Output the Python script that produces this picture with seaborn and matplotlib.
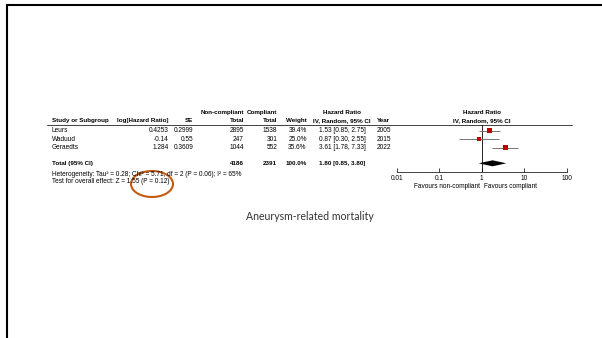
import matplotlib
matplotlib.use("Agg")
import matplotlib.pyplot as plt
from matplotlib.patches import Ellipse
import numpy as np
import pandas as pd
import seaborn as sns

# ---- data ----
studies = ["Leurs", "Waduud", "Geraedts"]
log_hr = [0.4253, -0.14, 1.284]
se = [0.2999, 0.55, 0.3609]
n_noncompliant = [2895, 247, 1044]
n_compliant = [1538, 301, 552]
weights = [39.4, 25.0, 35.6]
hr = [1.53, 0.87, 3.61]
ci_low = [0.85, 0.30, 1.78]
ci_high = [2.75, 2.55, 7.33]
years = [2005, 2015, 2022]

total_noncompliant = 4186
total_compliant = 2391
total_weight = 100.0
total_hr = 1.80
total_low = 0.85
total_high = 3.80

heterogeneity = "Heterogeneity: Tau\u00b2 = 0.28; Chi\u00b2 = 5.71, df = 2 (P = 0.06); I\u00b2 = 65%"
overall_effect = "Test for overall effect: Z = 1.55 (P = 0.12)"
tick_values = [0.01, 0.1, 1, 10, 100]
tick_labels = ["0.01", "0.1", "1", "10", "100"]
title = "Aneurysm-related mortality"

df = pd.DataFrame({"study": studies, "hr": hr, "lo": ci_low, "hi": ci_high,
                   "weight": weights})

sns.set_theme(style="white")
plt.rcParams["font.family"] = ["Liberation Sans", "DejaVu Sans"]

W, H = 602, 338
fig = plt.figure(figsize=(W / 100, H / 100), dpi=100)

# overlay in pixel units for the table text and frame
ov = fig.add_axes([0, 0, 1, 1])
ov.set_xlim(0, W)
ov.set_ylim(H, 0)
ov.axis("off")

# slide frame
ov.plot([6, W], [5, 5], color="black", lw=1.5, solid_capstyle="butt")
ov.plot([6.8, 6.8], [4.3, H], color="black", lw=1.5, solid_capstyle="butt")

fs = 4.7
fs_bold = 4.5
tc = "#000000"
hdr1_y, hdr2_y, line_y = 112.7, 120.7, 125.0
row_y = [130.7, 139.2, 147.7]
total_y = 163.3

def txt(x, y, s, ha="left", bold=False, **kw):
    ov.text(x, y, s, ha=ha, va="center",
            fontsize=fs_bold if bold else fs, color=tc,
            fontweight="bold" if bold else "normal", **kw)

# headers
col_study, col_log, col_se, col_nc, col_c, col_w, col_hr, col_year = \
    51.7, 168.3, 193.3, 244.0, 277.3, 306.7, 342.0, 376.7
txt(col_nc, hdr1_y, "Non-compliant", ha="right", bold=True)
txt(col_c, hdr1_y, "Compliant", ha="right", bold=True)
txt(col_hr, hdr1_y, "Hazard Ratio", ha="center", bold=True)
txt(481.7, hdr1_y, "Hazard Ratio", ha="center", bold=True)
txt(col_study, hdr2_y, "Study or Subgroup", bold=True)
txt(col_log, hdr2_y, "log[Hazard Ratio]", ha="right", bold=True)
txt(col_se, hdr2_y, "SE", ha="right", bold=True)
txt(col_nc, hdr2_y, "Total", ha="right", bold=True)
txt(col_c, hdr2_y, "Total", ha="right", bold=True)
txt(col_w, hdr2_y, "Weight", ha="right", bold=True)
txt(col_hr, hdr2_y, "IV, Random, 95% CI", ha="center", bold=True)
txt(col_year, hdr2_y, "Year", bold=True)
txt(481.7, hdr2_y, "IV, Random, 95% CI", ha="center", bold=True)
ov.plot([47, 572], [line_y, line_y], color="#222222", lw=0.6)

# study rows
for i, y in enumerate(row_y):
    txt(col_study, y, studies[i])
    txt(col_log, y, str(log_hr[i]), ha="right")
    txt(col_se, y, str(se[i]), ha="right")
    txt(col_nc, y, str(n_noncompliant[i]), ha="right")
    txt(col_c, y, str(n_compliant[i]), ha="right")
    txt(col_w, y, f"{weights[i]:.1f}%", ha="right")
    txt(col_hr, y, f"{hr[i]:.2f} [{ci_low[i]:.2f}, {ci_high[i]:.2f}]", ha="center")
    txt(col_year, y, str(years[i]))

# total row
txt(col_study, total_y, "Total (95% CI)", bold=True)
txt(col_nc, total_y, str(total_noncompliant), ha="right", bold=True)
txt(col_c, total_y, str(total_compliant), ha="right", bold=True)
txt(col_w, total_y, f"{total_weight:.1f}%", ha="right", bold=True)
txt(col_hr, total_y, f"{total_hr:.2f} [{total_low:.2f}, {total_high:.2f}]",
    ha="center", bold=True)
txt(col_study, 174.0, heterogeneity)
txt(col_study, 181.7, overall_effect)

# favours labels
txt(479.5, 186.5, "Favours non-compliant", ha="right")
txt(484.0, 186.5, "Favours compliant", ha="left")

# highlight around the p-value
ov.add_patch(Ellipse((152, 184), 42, 26, fill=False, edgecolor="#C55A11",
                     lw=1.5))

# caption
ov.text(310, 216.7, title, ha="center", va="center", fontsize=7.6,
        color="#333333", family=["Lato", "DejaVu Sans"])

# ---- forest plot axes ----
x0, x1 = 396.7, 566.7
ytop, ybot = line_y, 171.7
fa = fig.add_axes([x0 / W, 1 - ybot / H, (x1 - x0) / W, (ybot - ytop) / H])
fa.set_facecolor("none")
fa.set_xscale("log")
fa.set_xlim(tick_values[0], tick_values[-1])
fa.set_ylim(ybot, ytop)
df["y"] = row_y

fa.hlines(df["y"], df["lo"], df["hi"], color="#777777", lw=0.7, zorder=2)
fa.axvline(1, color="black", lw=0.6, zorder=1)
sns.scatterplot(data=df, x="hr", y="y", size="weight", sizes=(6, 12),
                marker="s", color="#C00000", edgecolor="none", legend=False,
                ax=fa, zorder=3)
dh = 3.0
fa.fill([total_low, total_hr, total_high, total_hr],
        [total_y, total_y - dh, total_y, total_y + dh],
        color="black", lw=0, zorder=3)

for s in ["top", "right", "left"]:
    fa.spines[s].set_visible(False)
fa.spines["bottom"].set_color("#222222")
fa.spines["bottom"].set_linewidth(0.6)
fa.set_xticks(tick_values)
fa.set_xticklabels(tick_labels)
fa.minorticks_off()
fa.tick_params(axis="x", direction="in", length=3, width=0.6, color="#222222",
               labelsize=fs, labelcolor=tc, pad=2.2, bottom=True)
fa.set_yticks([])
fa.set_xlabel("")
fa.set_ylabel("")

fig.savefig("out.png", dpi=100)
